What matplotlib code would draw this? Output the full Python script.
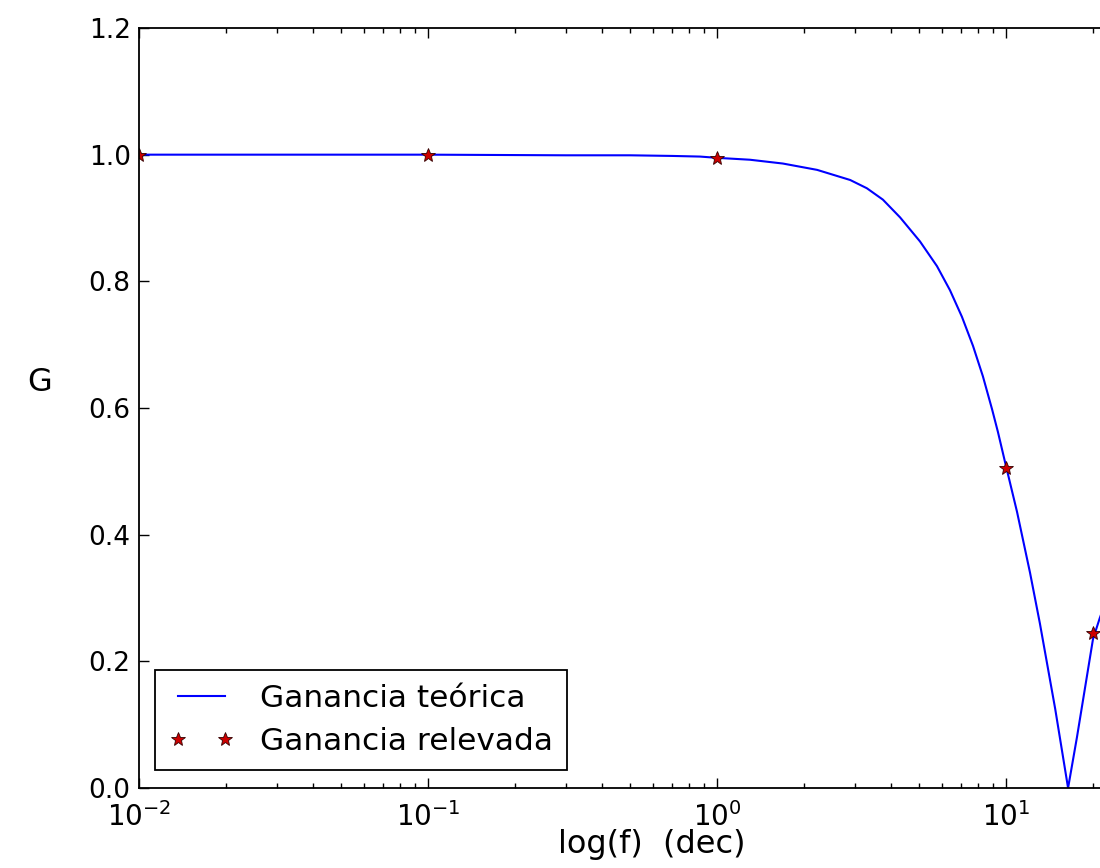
import matplotlib
matplotlib.use("Agg")
import matplotlib.pyplot as plt

# Theoretical gain curve
f_teo = [0.01, 0.1, 0.3, 0.5, 0.7, 0.873, 1.0, 1.30, 1.69, 2.22, 2.89, 3.30,
         3.75, 4.30, 5.04, 5.77, 6.40, 7.04, 7.69, 8.32, 8.95, 9.38, 9.92,
         10.92, 12.11, 13.1, 14.8, 16.4, 17.6, 20.0, 21.1, 25.0]
g_teo = [1.0, 1.0, 0.999, 0.999, 0.998, 0.997, 0.995, 0.992, 0.986, 0.976, 0.960, 0.947,
         0.929, 0.901, 0.863, 0.824, 0.786, 0.744, 0.698, 0.650, 0.598, 0.562, 0.515,
         0.436, 0.340, 0.260, 0.125, 0.0, 0.080, 0.235, 0.268, 0.36]

# Measured gain points
f_med = [0.01, 0.1, 1.0, 10.0, 20.0]
g_med = [1.0, 1.0, 0.995, 0.505, 0.245]

y_ticks = [0.0, 0.2, 0.4, 0.6, 0.8, 1.0, 1.2]
y_tick_labels = ['0.0', '0.2', '0.4', '0.6', '0.8', '1.0', '1.2']

plt.rcParams['font.family'] = ['DejaVu Sans']
plt.rcParams['mathtext.default'] = 'regular'
plt.rcParams['axes.unicode_minus'] = False

fig = plt.figure(figsize=(11, 8.68), dpi=100)
W, H = 1100, 868
ax = fig.add_axes([139 / W, 80 / H, 1026 / W, 760 / H])

ax.plot(f_teo, g_teo, color='blue', lw=1.5, label='Ganancia teórica')
ax.plot(f_med, g_med, linestyle='none', marker='*', markersize=10,
        markerfacecolor='#cc0000', markeredgecolor='#330000', markeredgewidth=0.6,
        label='Ganancia relevada')

ax.set_xscale('log')
ax.set_xlim(0.01, 35.5)
ax.set_ylim(0.0, 1.2)
ax.set_yticks(y_ticks)
ax.set_yticklabels(y_tick_labels)

for s in ax.spines.values():
    s.set_linewidth(1.3)
ax.tick_params(which='both', direction='in', top=True, right=True, width=1.0)
ax.tick_params(which='major', length=7)
ax.tick_params(which='minor', length=3.5)
ax.tick_params(axis='y', labelsize=19, pad=6)
ax.tick_params(axis='x', labelsize=20, pad=10)

ax.set_xlabel('log(f)  (dec)', fontsize=23, labelpad=-2)
ax.set_ylabel('G', fontsize=23, rotation=0, ha='center', va='center')
ax.yaxis.set_label_coords(-0.0965, 0.533)

leg = ax.legend(loc='lower left', bbox_to_anchor=(16 / 1026, 18 / 760),
                borderaxespad=0, fontsize=22.5, numpoints=2, fancybox=False,
                framealpha=1, edgecolor='black', handlelength=2.1,
                handletextpad=0.8, borderpad=0.45, labelspacing=0.45)
leg.get_frame().set_linewidth(1.3)

fig.savefig('out.png', dpi=100)
